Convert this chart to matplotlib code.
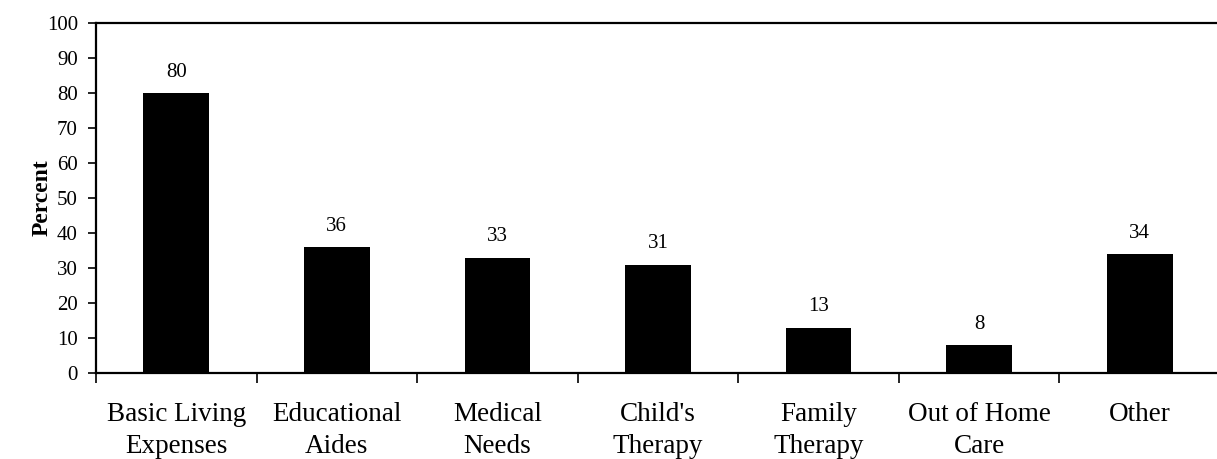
import numpy as np
import matplotlib.pyplot as plt
import matplotlib

matplotlib.rcParams['font.family'] = ['Liberation Serif', 'DejaVu Serif']

# data
categories = ['Basic Living\nExpenses', 'Educational\nAides', 'Medical\nNeeds',
              "Child's\nTherapy", 'Family\nTherapy', 'Out of Home\nCare', 'Other']
values = [80, 36, 33, 31, 13, 8, 34]

fig = plt.figure(figsize=(12.17, 4.59), dpi=100)
ax = fig.add_axes([96 / 1217, 1 - 373 / 459, 1124 / 1217, 350 / 459])

x = np.arange(len(categories))
ax.bar(x, values, width=0.41, color='black', zorder=2)

for xi, v in zip(x, values):
    ax.text(xi, v + 3.2, str(v), ha='center', va='bottom', fontsize=15)

ax.set_xlim(-0.5, len(categories) - 0.5)
ax.set_ylim(0, 100)
ax.set_yticks(range(0, 101, 10))
ax.tick_params(axis='y', labelsize=15, length=6, width=1.2, direction='out', pad=7)

# category labels centred, ticks at boundaries
ax.set_xticks(x)
ax.set_xticklabels(categories, fontsize=19.5, linespacing=1.37)
ax.tick_params(axis='x', which='major', length=0, pad=21)
ax.set_xticks(np.arange(len(categories)) - 0.5, minor=True)
ax.tick_params(axis='x', which='minor', length=7, width=1.2, direction='out')

for side in ['left', 'bottom', 'top']:
    ax.spines[side].set_linewidth(1.6)
ax.spines['right'].set_visible(False)

ax.set_ylabel('Percent', fontsize=17, fontweight='bold', labelpad=-4.5)

plt.savefig('out.png', dpi=100)
